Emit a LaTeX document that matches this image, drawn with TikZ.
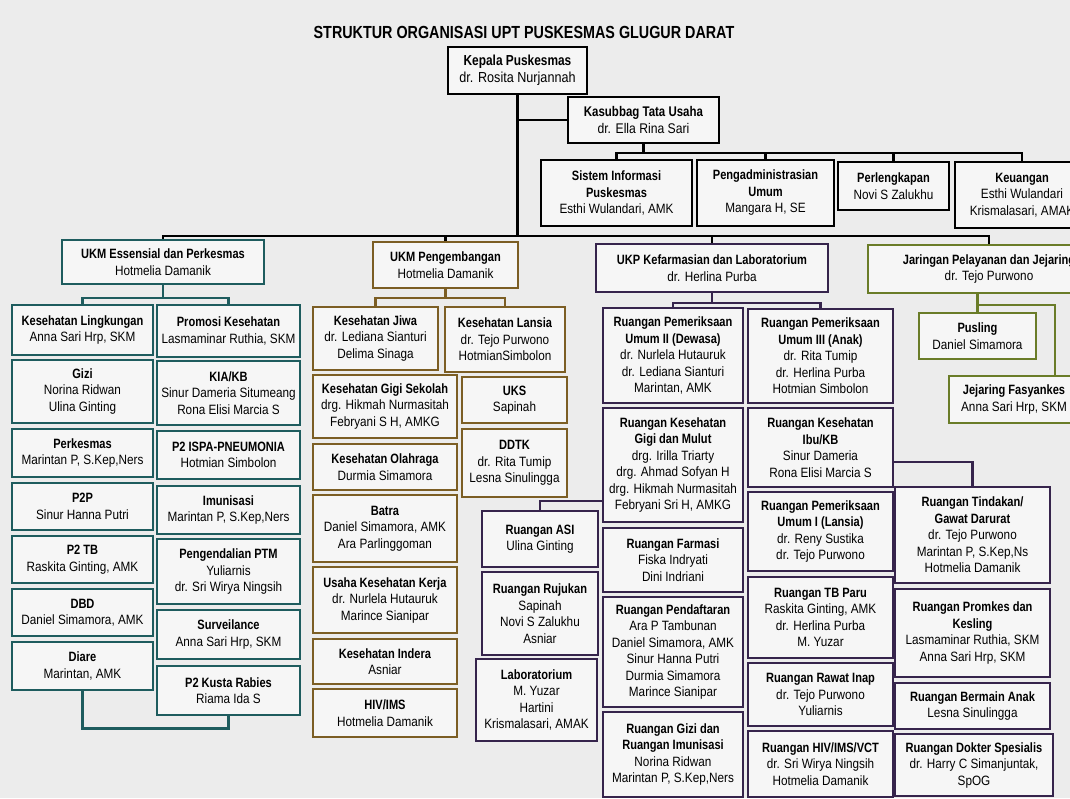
\documentclass[tikz,border=0pt]{standalone}
\usepackage{fontspec}
\setmainfont{Liberation Sans}[UprightFeatures={FakeStretch=0.87}, BoldFeatures={FakeStretch=0.82}]
\usetikzlibrary{calc}
\definecolor{paper}{RGB}{236, 236, 236}
\definecolor{boxfill}{RGB}{246, 246, 246}
\definecolor{essTeal}{RGB}{30, 92, 94}
\definecolor{pengBrown}{RGB}{124, 94, 36}
\definecolor{ukpPurple}{RGB}{54, 36, 76}
\definecolor{jarOlive}{RGB}{106, 124, 40}

\begin{document}
\begin{tikzpicture}[x=1pt, y=-1pt,
    unit/.style={draw, rectangle, line width=2.6pt, fill=boxfill, align=center, inner sep=1pt,
        font=\fontsize{13.5}{16.5}\selectfont},
    topbox/.style={unit, draw=black},
    ess/.style={unit, draw=essTeal},
    peng/.style={unit, draw=pengBrown},
    ukp/.style={unit, draw=ukpPurple},
    jar/.style={unit, draw=jarOlive},
    link/.style={line width=2.4pt},
    essLink/.style={link, essTeal},
    pengLink/.style={link, pengBrown},
    ukpLink/.style={link, ukpPurple},
    jarLink/.style={link, jarOlive}]
                \useasboundingbox (0,0) rectangle (1070,798);
                \fill[paper] (0,0) rectangle (1070,798);
                \clip (0,0) rectangle (1070,798);

                \node[font=\fontsize{17.5}{20}\selectfont\bfseries] (title) at (524,32) {STRUKTUR ORGANISASI UPT PUSKESMAS GLUGUR DARAT};

                \node[topbox, minimum width=139pt, minimum height=47pt, font=\fontsize{14.5}{17}\selectfont] (kepala) at (517.5,70.5) {\textbf{Kepala Puskesmas}\\dr. Rosita Nurjannah};
                \node[topbox, minimum width=151pt, minimum height=46pt, font=\fontsize{14}{16.5}\selectfont] (kasubbag) at (643.5,120) {\textbf{Kasubbag Tata Usaha}\\dr. Ella Rina Sari};
                \node[topbox, minimum width=151pt, minimum height=66pt] (sik) at (616.5,193) {\textbf{Sistem Informasi}\\\textbf{Puskesmas}\\Esthi Wulandari, AMK};
                \node[topbox, minimum width=137pt, minimum height=66pt] (pengadm) at (765.5,193) {\textbf{Pengadministrasian}\\\textbf{Umum}\\Mangara H, SE};
                \node[topbox, minimum width=111pt, minimum height=48pt] (perlengkapan) at (893.5,186) {\textbf{Perlengkapan}\\Novi S Zalukhu};
                \node[topbox, minimum width=134pt, minimum height=66pt] (keuangan) at (1022,195) {\textbf{Keuangan}\\Esthi Wulandari\\Krismalasari, AMAK};

                \node[ess, minimum width=202pt, minimum height=44pt] (essensial) at (163,262) {\textbf{UKM Essensial dan Perkesmas}\\Hotmelia Damanik};
                \node[peng, minimum width=145pt, minimum height=46pt] (pengembangan) at (445.5,265) {\textbf{UKM Pengembangan}\\Hotmelia Damanik};
                \node[ukp, minimum width=232pt, minimum height=48pt] (kefarmasian) at (712,268) {\textbf{UKP Kefarmasian dan Laboratorium}\\dr. Herlina Purba};
                \node[jar, minimum width=242pt, minimum height=48pt] (jaringan) at (989,269) {\textbf{Jaringan Pelayanan dan Jejaring}\\dr. Tejo Purwono};

                \node[ess, minimum width=141pt, minimum height=50pt] (kesling) at (82.5,330) {\textbf{Kesehatan Lingkungan}\\Anna Sari Hrp, SKM};
                \node[ess, minimum width=141pt, minimum height=63pt] (gizi) at (82.5,391.5) {\textbf{Gizi}\\Norina Ridwan\\Ulina Ginting};
                \node[ess, minimum width=141pt, minimum height=48pt] (perkesmas) at (82.5,453) {\textbf{Perkesmas}\\Marintan P, S.Kep,Ners};
                \node[ess, minimum width=141pt, minimum height=47pt] (ptwop) at (82.5,506.5) {\textbf{P2P}\\Sinur Hanna Putri};
                \node[ess, minimum width=141pt, minimum height=47pt] (tb) at (82.5,559.5) {\textbf{P2 TB}\\Raskita Ginting, AMK};
                \node[ess, minimum width=141pt, minimum height=47pt] (dbd) at (82.5,612.5) {\textbf{DBD}\\Daniel Simamora, AMK};
                \node[ess, minimum width=141pt, minimum height=48pt] (diare) at (82.5,666) {\textbf{Diare}\\Marintan, AMK};
                \node[ess, minimum width=143pt, minimum height=52pt] (promkes) at (228.5,331) {\textbf{Promosi Kesehatan}\\Lasmaminar Ruthia, SKM};
                \node[ess, minimum width=143pt, minimum height=64pt] (kiakb) at (228.5,393) {\textbf{KIA/KB}\\Sinur Dameria Situmeang\\Rona Elisi Marcia S};
                \node[ess, minimum width=143pt, minimum height=48pt] (ispa) at (228.5,455) {\textbf{P2 ISPA-PNEUMONIA}\\Hotmian Simbolon};
                \node[ess, minimum width=143pt, minimum height=48pt] (imunisasi) at (228.5,510) {\textbf{Imunisasi}\\Marintan P, S.Kep,Ners};
                \node[ess, minimum width=143pt, minimum height=65pt] (ptm) at (228.5,571.5) {\textbf{Pengendalian PTM}\\Yuliarnis\\dr. Sri Wirya Ningsih};
                \node[ess, minimum width=143pt, minimum height=49pt] (surveilance) at (228.5,634.5) {\textbf{Surveilance}\\Anna Sari Hrp, SKM};
                \node[ess, minimum width=143pt, minimum height=49pt] (kusta) at (228.5,690.5) {\textbf{P2 Kusta Rabies}\\Riama Ida S};

                \node[peng, minimum width=125pt, minimum height=63pt] (jiwa) at (375.5,338.5) {\textbf{Kesehatan Jiwa}\\dr. Lediana Sianturi\\Delima Sinaga};
                \node[peng, minimum width=144pt, minimum height=63pt] (gigisekolah) at (385,406.5) {\textbf{Kesehatan Gigi Sekolah}\\drg. Hikmah Nurmasitah\\Febryani S H, AMKG};
                \node[peng, minimum width=144pt, minimum height=46pt] (olahraga) at (385,467) {\textbf{Kesehatan Olahraga}\\Durmia Simamora};
                \node[peng, minimum width=144pt, minimum height=67pt] (batra) at (385,528.5) {\textbf{Batra}\\Daniel Simamora, AMK\\Ara Parlinggoman};
                \node[peng, minimum width=144pt, minimum height=66pt] (kerja) at (385,600) {\textbf{Usaha Kesehatan Kerja}\\dr. Nurlela Hutauruk\\Marince Sianipar};
                \node[peng, minimum width=144pt, minimum height=45pt] (indera) at (385,661.5) {\textbf{Kesehatan Indera}\\Asniar};
                \node[peng, minimum width=144pt, minimum height=48pt] (hivims) at (385,713) {\textbf{HIV/IMS}\\Hotmelia Damanik};
                \node[peng, minimum width=120pt, minimum height=65pt] (lansia) at (505,339.5) {\textbf{Kesehatan Lansia}\\dr. Tejo Purwono\\HotmianSimbolon};
                \node[peng, minimum width=105pt, minimum height=46pt] (uks) at (514.5,400) {\textbf{UKS}\\Sapinah};
                \node[peng, minimum width=105pt, minimum height=68pt] (ddtk) at (514.5,463) {\textbf{DDTK}\\dr. Rita Tumip\\Lesna Sinulingga};

                \node[ukp, minimum width=140pt, minimum height=95pt] (dewasa) at (673,355.5) {\textbf{Ruangan Pemeriksaan}\\\textbf{Umum II (Dewasa)}\\dr. Nurlela Hutauruk\\dr. Lediana Sianturi\\Marintan, AMK};
                \node[ukp, minimum width=140pt, minimum height=114pt] (gigimulut) at (673,465) {\textbf{Ruangan Kesehatan}\\\textbf{Gigi dan Mulut}\\drg. Irilla Triarty\\drg. Ahmad Sofyan H\\drg. Hikmah Nurmasitah\\Febryani Sri H, AMKG};
                \node[ukp, minimum width=140pt, minimum height=64pt] (farmasi) at (673,560) {\textbf{Ruangan Farmasi}\\Fiska Indryati\\Dini Indriani};
                \node[ukp, minimum width=140pt, minimum height=110pt] (pendaftaran) at (673,652) {\textbf{Ruangan Pendaftaran}\\Ara P Tambunan\\Daniel Simamora, AMK\\Sinur Hanna Putri\\Durmia Simamora\\Marince Sianipar};
                \node[ukp, minimum width=140pt, minimum height=85pt] (giziimunisasi) at (673,754.5) {\textbf{Ruangan Gizi dan}\\\textbf{Ruangan Imunisasi}\\Norina Ridwan\\Marintan P, S.Kep,Ners};
                \node[ukp, minimum width=145pt, minimum height=94pt] (anak) at (820.5,356) {\textbf{Ruangan Pemeriksaan}\\\textbf{Umum III (Anak)}\\dr. Rita Tumip\\dr. Herlina Purba\\Hotmian Simbolon};
                \node[ukp, minimum width=145pt, minimum height=79pt] (ibukb) at (820.5,447.5) {\textbf{Ruangan Kesehatan}\\\textbf{Ibu/KB}\\Sinur Dameria\\Rona Elisi Marcia S};
                \node[ukp, minimum width=145pt, minimum height=79pt] (umumlansia) at (820.5,531.5) {\textbf{Ruangan Pemeriksaan}\\\textbf{Umum I (Lansia)}\\dr. Reny Sustika\\dr. Tejo Purwono};
                \node[ukp, minimum width=145pt, minimum height=81pt] (tbparu) at (820.5,617.5) {\textbf{Ruangan TB Paru}\\Raskita Ginting, AMK\\dr. Herlina Purba\\M. Yuzar};
                \node[ukp, minimum width=145pt, minimum height=63pt] (rawatinap) at (820.5,694.5) {\textbf{Ruangan Rawat Inap}\\dr. Tejo Purwono\\Yuliarnis};
                \node[ukp, minimum width=145pt, minimum height=66pt] (vct) at (820.5,764) {\textbf{Ruangan HIV/IMS/VCT}\\dr. Sri Wirya Ningsih\\Hotmelia Damanik};
                \node[ukp, minimum width=116pt, minimum height=56pt] (asi) at (540,539) {\textbf{Ruangan ASI}\\Ulina Ginting};
                \node[ukp, minimum width=116pt, minimum height=83pt] (rujukan) at (540,613.5) {\textbf{Ruangan Rujukan}\\Sapinah\\Novi S Zalukhu\\Asniar};
                \node[ukp, minimum width=121pt, minimum height=82pt] (lab) at (536.5,700) {\textbf{Laboratorium}\\M. Yuzar\\Hartini\\Krismalasari, AMAK};
                \node[ukp, minimum width=155pt, minimum height=96pt] (tindakan) at (972.5,535) {\textbf{Ruangan Tindakan/}\\\textbf{Gawat Darurat}\\dr. Tejo Purwono\\Marintan P, S.Kep,Ns\\Hotmelia Damanik};
                \node[ukp, minimum width=155pt, minimum height=88pt] (promkesruang) at (972.5,633) {\textbf{Ruangan Promkes dan}\\\textbf{Kesling}\\Lasmaminar Ruthia, SKM\\Anna Sari Hrp, SKM};
                \node[ukp, minimum width=155pt, minimum height=46pt] (bermain) at (972.5,706) {\textbf{Ruangan Bermain Anak}\\Lesna Sinulingga};
                \node[ukp, minimum width=158pt, minimum height=62pt] (spesialis) at (974,765) {\textbf{Ruangan Dokter Spesialis}\\dr. Harry C Simanjuntak,\\SpOG};

                \node[jar, minimum width=117pt, minimum height=46pt] (pusling) at (977.5,336) {\textbf{Pusling}\\Daniel Simamora};
                \node[jar, minimum width=130pt, minimum height=47pt] (fasyankes) at (1014,399.5) {\textbf{Jejaring Fasyankes}\\Anna Sari Hrp, SKM};

                \coordinate (mainBus) at (517.5,236);
                \coordinate (tuBus) at (643.5,153);
                \coordinate (essBus) at (163,298);
                \coordinate (pengBus) at (445.5,298);
                \coordinate (ukpBus) at (712,303);
                \coordinate (jarBus) at (977.5,305);
                \coordinate (asiLink) at (603,501);
                \coordinate (tindakanLink) at (893,462);

                \draw[link] (kepala.south) -- (mainBus);
                \draw[link] (kepala.south |- kasubbag.west) -- (kasubbag.west);
                \draw[link] (essensial.north) |- (mainBus) -| (jaringan.north);
                \draw[link] (pengembangan.north) -- (pengembangan.north |- mainBus);
                \draw[link] (kefarmasian.north) -- (kefarmasian.north |- mainBus);
                \draw[link] (kasubbag.south) -- (tuBus);
                \draw[link] (sik.north) |- (tuBus) -| (keuangan.north);
                \draw[link] (pengadm.north) -- (pengadm.north |- tuBus);
                \draw[link] (perlengkapan.north) -- (perlengkapan.north |- tuBus);

                \draw[essLink] (essensial.south) -- (essBus);
                \draw[essLink] (kesling.north) |- (essBus) -| (promkes.north);
                \draw[essLink] (diare.south) -- ++(0,37) -| (kusta.south);

                \draw[pengLink] (pengembangan.south) -- (pengBus);
                \draw[pengLink] (jiwa.north) |- (pengBus) -| (lansia.north);

                \draw[ukpLink] (kefarmasian.south) -- (ukpBus);
                \draw[ukpLink] (dewasa.north) |- (ukpBus) -| (anak.north);
                \draw[ukpLink] (asiLink) -| (asi.north);
                \draw[ukpLink] (tindakanLink) -| (tindakan.north);

                \draw[jarLink] (jaringan.south -| jarBus) -- (jarBus);
                \draw[jarLink] (pusling.north) |- (jarBus) -| ($(fasyankes.north)+(41,0)$);
            \end{tikzpicture}
\end{document}
